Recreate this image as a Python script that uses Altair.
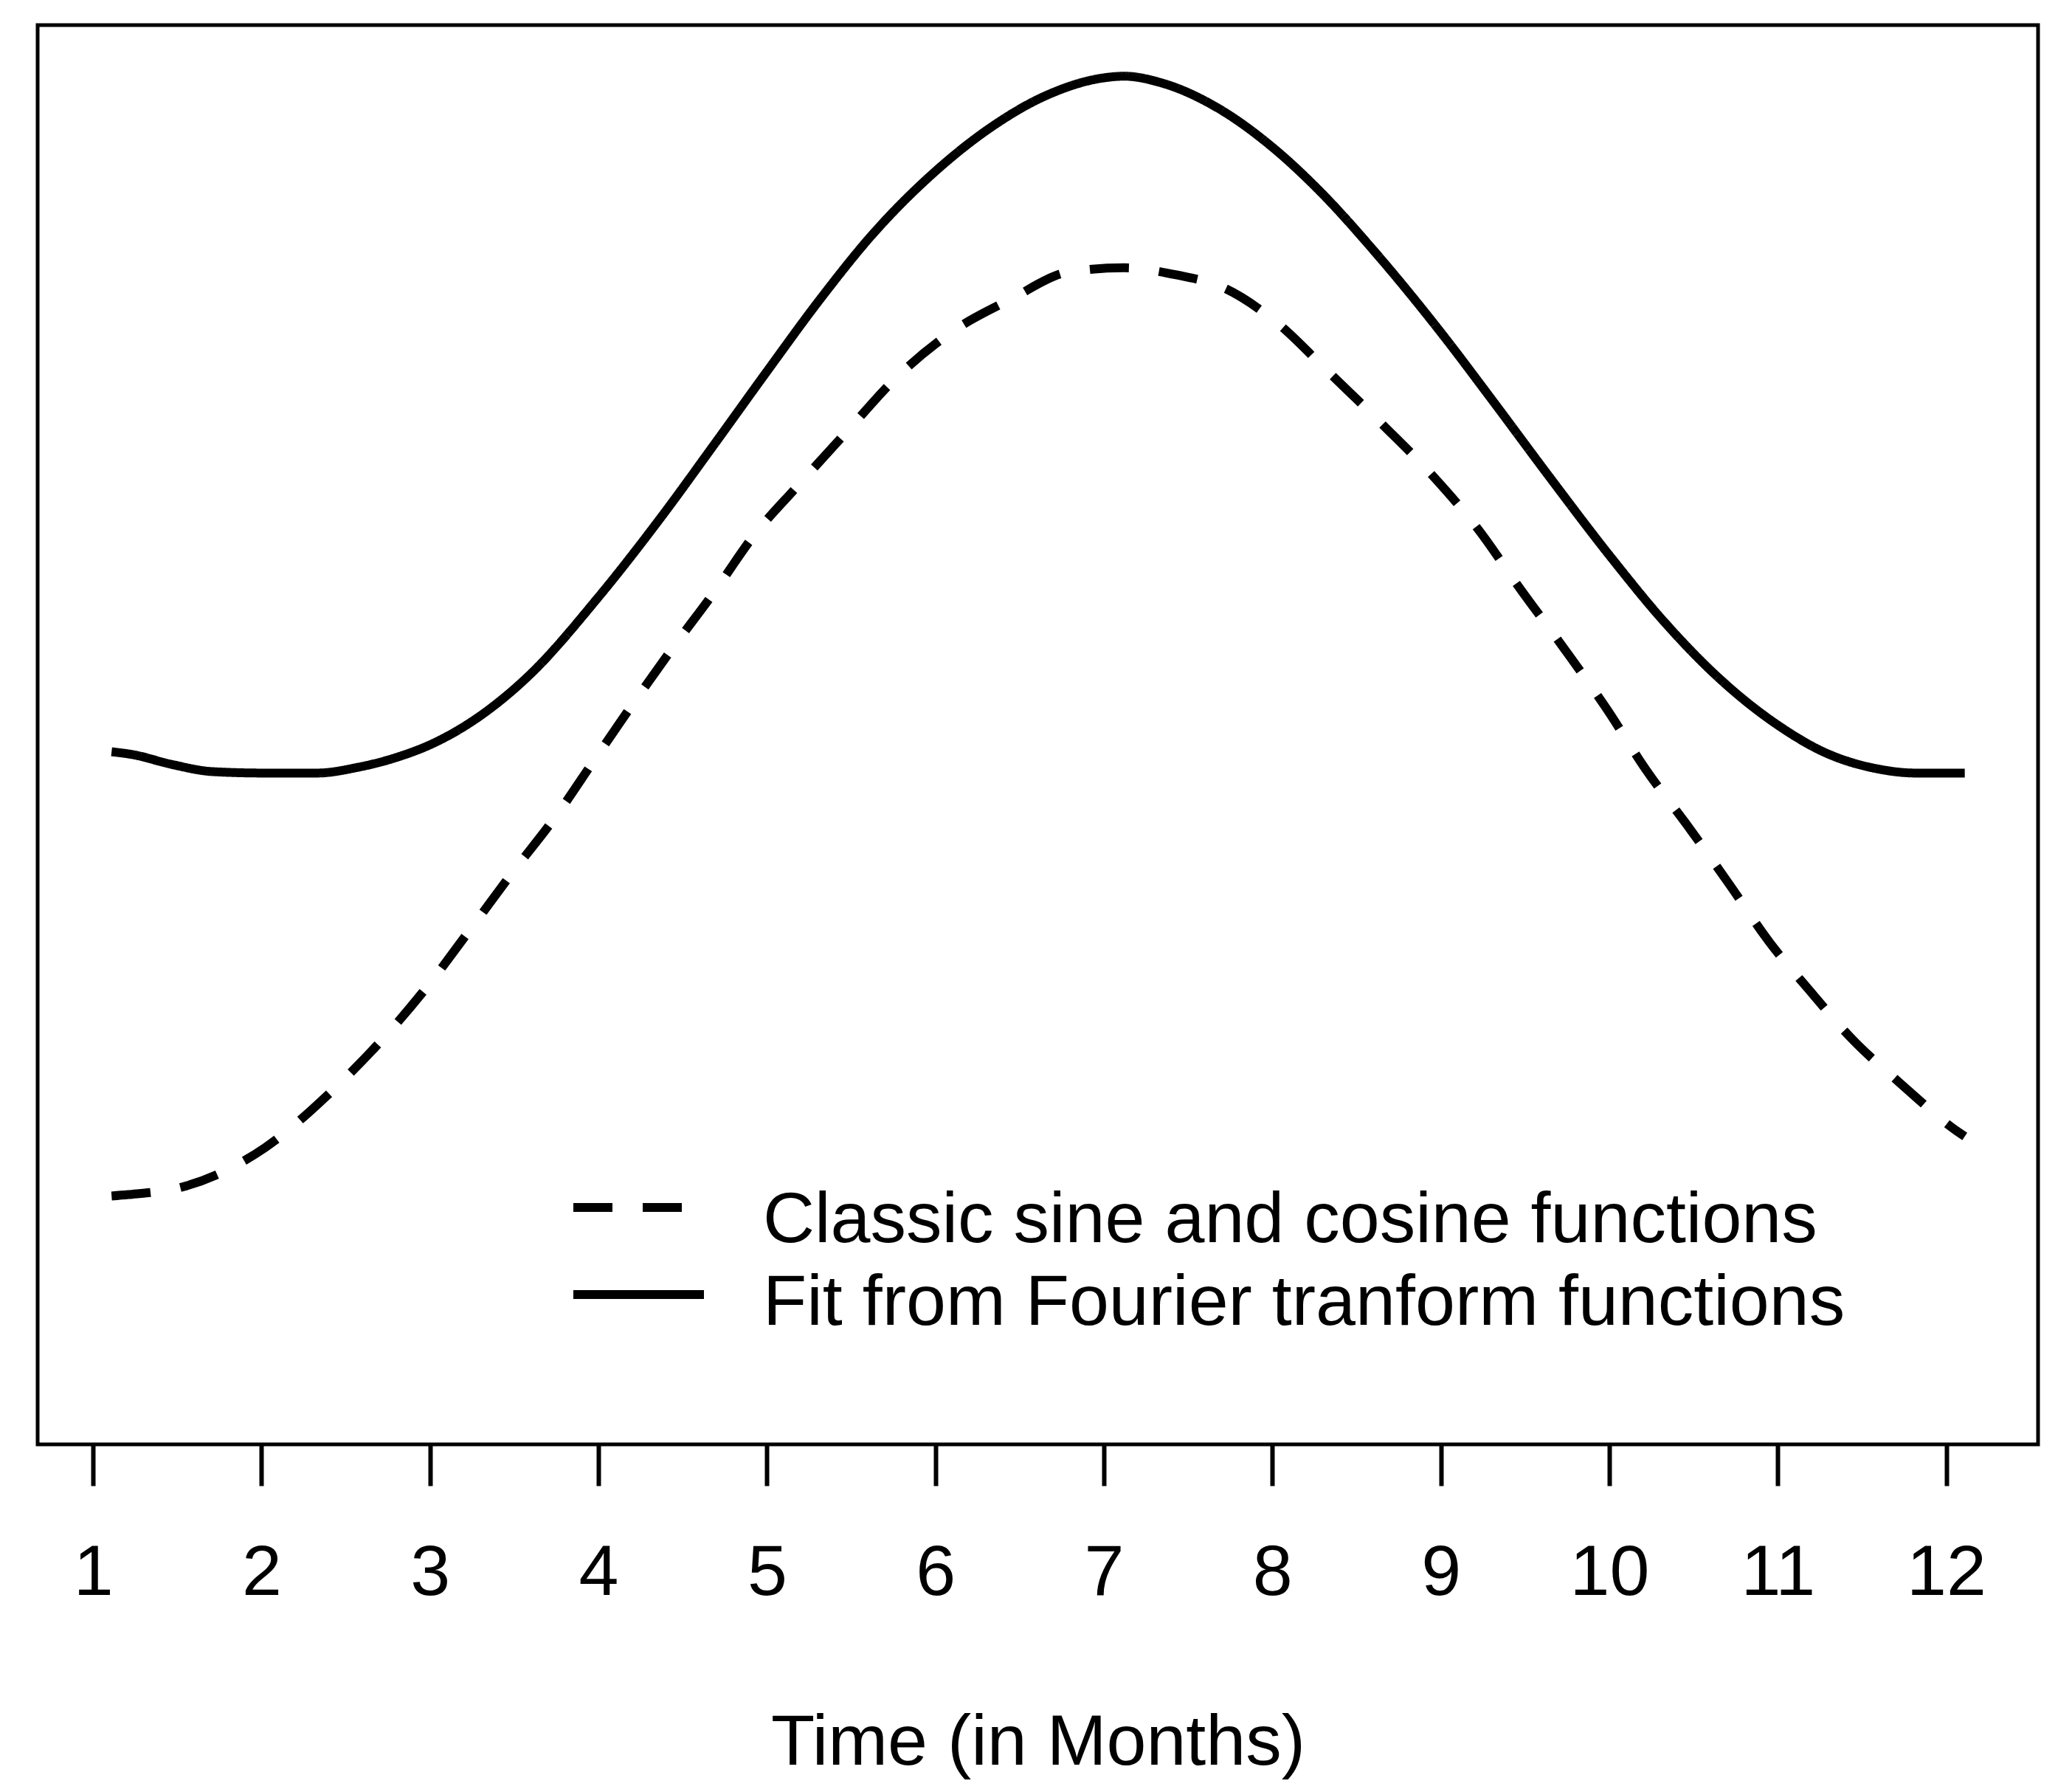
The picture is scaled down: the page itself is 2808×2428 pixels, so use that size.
import altair as alt
import pandas as pd

# Data (x in months, y in arbitrary fitted units; no y axis shown)
fit_month = [1.11, 1.235, 1.47, 1.71, 2.02, 2.33, 2.57, 2.80, 3.02, 3.27, 3.59, 4.00, 4.37,
             4.69, 5.00, 5.31, 5.63, 6.00, 6.33, 6.65, 7.01, 7.12, 7.35, 7.67, 8.00, 8.29,
             8.61, 9.01, 9.31, 9.63, 10.01, 10.33, 10.65, 11.01, 11.27, 11.59, 11.82, 12.11]
fit_value = [48.8, 48.6, 47.9, 47.4, 47.3, 47.3, 47.7, 48.4, 49.4, 51.1, 54.2, 59.7, 65.3,
             70.5, 75.6, 80.6, 85.3, 89.7, 92.8, 95.0, 96.3, 96.4, 95.9, 94.2, 91.4, 88.2,
             84.0, 78.2, 73.5, 68.4, 62.5, 57.9, 54.0, 50.6, 48.8, 47.6, 47.3, 47.3]

classic_month = [1.11, 1.21, 1.55, 2.02, 2.40, 2.73, 2.98, 3.24, 3.49, 3.75, 3.98, 4.20,
                 4.44, 4.69, 4.92, 5.18, 5.47, 5.78, 6.10, 6.45, 6.79, 7.12, 7.43, 7.71,
                 8.02, 8.33, 8.65, 8.94, 9.22, 9.47, 9.73, 9.98, 10.22, 10.47, 10.71, 10.95,
                 11.18, 11.43, 11.75, 12.06, 12.11]
classic_value = [17.5, 17.6, 18.2, 20.9, 24.7, 28.7, 32.2, 36.3, 40.3, 44.3, 48.3, 52.1,
                 56.1, 60.1, 64.0, 67.5, 71.3, 75.3, 78.4, 80.7, 82.6, 82.9, 82.4, 81.5,
                 79.1, 75.6, 71.9, 68.4, 64.5, 60.3, 56.1, 51.9, 47.5, 43.5, 39.5, 35.4,
                 32.1, 28.7, 25.2, 22.1, 21.7]

series_names = ["Classic sine and cosine functions", "Fit from Fourier tranform functions"]
month_ticks = [1, 2, 3, 4, 5, 6, 7, 8, 9, 10, 11, 12]

FONT = "Liberation Sans"
FS = 97

df = pd.concat([
    pd.DataFrame({"month": classic_month, "value": classic_value, "series": series_names[0]}),
    pd.DataFrame({"month": fit_month, "value": fit_value, "series": series_names[1]}),
])

W, H = 2711, 1923

x_enc = alt.X(
    "month:Q",
    scale=alt.Scale(domain=[0.671, 12.545], nice=False, zero=False),
    axis=alt.Axis(
        values=month_ticks, format="d", grid=False, domain=False,
        tickSize=56, tickWidth=6, tickColor="black",
        labelFont=FONT, labelFontSize=FS, labelColor="black", labelAngle=0,
        labelBaseline="alphabetic", labelPadding=147, labelFlush=False,
        labelOverlap=False,
        title="Time (in Months)", titleFont=FONT, titleFontSize=FS,
        titleFontWeight="normal", titleColor="black",
        titleBaseline="alphabetic", titleY=433,
    ),
)
y_enc = alt.Y("value:Q", scale=alt.Scale(domain=[0, 100], nice=False, zero=False), axis=None)

lines = alt.Chart(df).mark_line(color="black", strokeWidth=12, interpolate="monotone").encode(
    x=x_enc,
    y=y_enc,
    strokeDash=alt.StrokeDash(
        "series:N",
        scale=alt.Scale(domain=series_names, range=[[53, 41], [1, 0]]),
        legend=None,
    ),
    detail="series:N",
)

leg1 = pd.DataFrame({"label": [series_names[0]]})
leg2 = pd.DataFrame({"label": [series_names[1]]})

rule1 = alt.Chart(leg1).mark_rule(color="black", strokeWidth=12, strokeDash=[53, 41]).encode(
    x=alt.value(726), x2=alt.value(903), y=alt.value(1602)
)
rule2 = alt.Chart(leg2).mark_rule(color="black", strokeWidth=12).encode(
    x=alt.value(726), x2=alt.value(903), y=alt.value(1720)
)
text1 = alt.Chart(leg1).mark_text(
    align="left", baseline="alphabetic", font=FONT, fontSize=FS, color="black"
).encode(text="label:N", x=alt.value(983), y=alt.value(1649))
text2 = alt.Chart(leg2).mark_text(
    align="left", baseline="alphabetic", font=FONT, fontSize=FS, color="black"
).encode(text="label:N", x=alt.value(983), y=alt.value(1761))

chart = alt.layer(lines, rule1, rule2, text1, text2).properties(
    width=W, height=H,
    autosize=alt.AutoSizeParams(type="none"),
    padding={"left": 43, "top": 26, "right": 30, "bottom": 460},
    background="white",
).configure_view(
    stroke="black", strokeWidth=5, fill="white"
)

chart.save("out.html", embed_options={"renderer": "svg", "actions": False})
